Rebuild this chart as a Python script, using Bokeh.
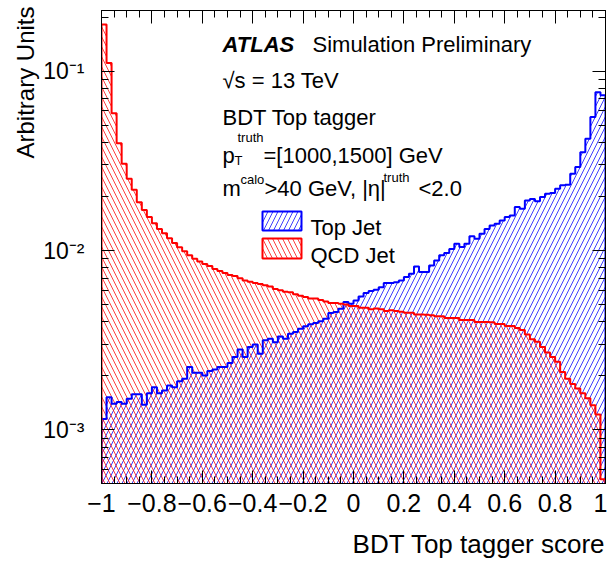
import numpy as np
from bokeh.plotting import figure
from bokeh.models import (Range1d, LinearAxis, LogAxis, FixedTicker,
                          Label, BoxAnnotation, Title)
from bokeh.embed import file_html
from bokeh.resources import INLINE

# ---------------- data ----------------
x_min, x_max = -1.0, 1.0
n_bins = 100

top_jet = [
    0.00115, 0.00152, 0.00140, 0.00143, 0.00140, 0.00149, 0.00158, 0.00158, 0.00138, 0.00160,
    0.00173, 0.00160, 0.00166, 0.00177, 0.00173, 0.00187, 0.00193, 0.00224, 0.00208, 0.00208,
    0.00201, 0.00213, 0.00217, 0.00224, 0.00224, 0.00236, 0.00255, 0.00281, 0.00255, 0.00290,
    0.00299, 0.00266, 0.00316, 0.00322, 0.00308, 0.00332, 0.00322, 0.00344, 0.00351, 0.00366,
    0.00378, 0.00388, 0.00395, 0.00404, 0.00417, 0.00448, 0.00454, 0.00474, 0.00516, 0.00505,
    0.00527, 0.00555, 0.00579, 0.00594, 0.00604, 0.00625, 0.00660, 0.00660, 0.00666, 0.00681,
    0.00711, 0.00743, 0.00815, 0.00758, 0.00758, 0.00826, 0.00881, 0.00940, 0.00970, 0.01020,
    0.01090, 0.01045, 0.01090, 0.01200, 0.01164, 0.01240, 0.01320, 0.01380, 0.01410, 0.01470,
    0.01540, 0.01570, 0.01750, 0.01710, 0.01900, 0.01940, 0.01880, 0.01990, 0.02070, 0.02090,
    0.02210, 0.02310, 0.02330, 0.02680, 0.02920, 0.03530, 0.04200, 0.05550, 0.07640, 0.07330,
]

qcd_jet = [
    0.18200, 0.11100, 0.05830, 0.03970, 0.03050, 0.02510, 0.02180, 0.01860, 0.01680, 0.01540,
    0.01420, 0.01320, 0.01250, 0.01170, 0.01100, 0.01044, 0.00990, 0.00940, 0.00900, 0.00870,
    0.00840, 0.00820, 0.00790, 0.00770, 0.00750, 0.00730, 0.00720, 0.00700, 0.00680, 0.00670,
    0.00660, 0.00650, 0.00640, 0.00630, 0.00610, 0.00600, 0.00590, 0.00585, 0.00570, 0.00560,
    0.00550, 0.00540, 0.00540, 0.00530, 0.00520, 0.00510, 0.00510, 0.00505, 0.00500, 0.00490,
    0.00490, 0.00480, 0.00480, 0.00470, 0.00475, 0.00470, 0.00460, 0.00465, 0.00460, 0.00455,
    0.00450, 0.00450, 0.00440, 0.00440, 0.00438, 0.00435, 0.00430, 0.00430, 0.00420, 0.00420,
    0.00420, 0.00410, 0.00410, 0.00410, 0.00400, 0.00400, 0.00400, 0.00398, 0.00390, 0.00390,
    0.00380, 0.00380, 0.00370, 0.00360, 0.00340, 0.00320, 0.00310, 0.00290, 0.00270, 0.00255,
    0.00240, 0.00210, 0.00193, 0.00180, 0.00170, 0.00160, 0.00150, 0.00137, 0.00122, 0.00053,
]

x_ticks = [-1.0, -0.8, -0.6, -0.4, -0.2, 0.0, 0.2, 0.4, 0.6, 0.8, 1.0]
x_tick_labels = ["\u22121", "\u22120.8", "\u22120.6", "\u22120.4", "\u22120.2", "0",
                 "0.2", "0.4", "0.6", "0.8", "1"]
y_ticks = [0.001, 0.01, 0.1]
y_tick_labels = ["10\u207b\u00b3", "10\u207b\u00b2", "10\u207b\u00b9"]

series_names = ["Top Jet", "QCD Jet"]
series_colors = ["#0000ff", "#ff0000"]
series_hatch = ["/", "\\"]

# ---------------- layout helpers ----------------
FL, FT, FW, FH = 101, 10, 504, 473
YTOP, YBOT = -0.6617, -3.2989
FONT = "Liberation Sans"


def dx(px):
    return float(x_min + (px - FL) / FW * (x_max - x_min))


def dy(py):
    return float(10 ** (YTOP - (py - FT) / FH * (YTOP - YBOT)))


edges = np.linspace(x_min, x_max, n_bins + 1)
floor = 10 ** YBOT * 0.5

p = figure(frame_width=FW, frame_height=FH,
           x_range=Range1d(x_min, x_max), y_range=Range1d(10 ** YBOT, 10 ** YTOP),
           y_axis_type="log", output_backend="svg", toolbar_location=None,
           min_border_left=FL, min_border_top=FT, min_border_right=2, min_border_bottom=83,
           background_fill_color="white", border_fill_color="white")
p.xgrid.visible = False
p.ygrid.visible = False
p.outline_line_color = "black"
p.outline_line_width = 1

# ---------------- histograms ----------------
for vals, col, hp in zip([top_jet, qcd_jet], series_colors, series_hatch):
    v = np.asarray(vals)
    xs = np.repeat(edges, 2)[1:-1]
    ys = np.repeat(v, 2)
    p.varea(x=xs, y1=np.full_like(ys, floor), y2=ys, fill_alpha=0,
            hatch_pattern=hp, hatch_color=col, hatch_alpha=0.75,
            hatch_scale=10, hatch_weight=1)

for vals, col in zip([top_jet, qcd_jet], series_colors):
    v = np.asarray(vals)
    xs = np.repeat(edges, 2)
    ys = np.concatenate([[floor], np.repeat(v, 2), [floor]])
    p.line(xs, ys, line_color=col, line_width=2)

# ---------------- axes ----------------
minor_x = [round(float(t), 4) for t in np.arange(-1.0, 1.0001, 0.05)]
minor_y = [float(k * 10.0 ** e) for e in range(-4, 0) for k in range(2, 10)]


def style_axis(ax):
    ax.axis_line_color = "black"
    ax.axis_line_width = 1
    ax.major_tick_in = 13
    ax.major_tick_out = 0
    ax.minor_tick_in = 7
    ax.minor_tick_out = 0
    ax.major_tick_line_color = "black"
    ax.minor_tick_line_color = "black"


def hide_labels(ax):
    ax.major_label_text_color = None
    ax.major_label_text_alpha = 0
    ax.major_label_text_font_size = "1px"
    ax.major_label_standoff = 0


xa = p.xaxis[0]
xa.ticker = FixedTicker(ticks=x_ticks, minor_ticks=minor_x)
xa.major_label_overrides = {t: l for t, l in zip(x_ticks, x_tick_labels)}
xa.major_label_text_font = FONT
xa.major_label_text_font_size = "25px"
xa.major_label_text_color = "black"
xa.major_label_standoff = 10
style_axis(xa)

ya = p.yaxis[0]
ya.ticker = FixedTicker(ticks=y_ticks, minor_ticks=minor_y)
ya.major_label_overrides = {t: l for t, l in zip(y_ticks, y_tick_labels)}
ya.major_label_text_font = FONT
ya.major_label_text_font_size = "23px"
ya.major_label_text_color = "black"
ya.major_label_standoff = 17
style_axis(ya)

top_ax = LinearAxis(ticker=FixedTicker(ticks=x_ticks, minor_ticks=minor_x))
hide_labels(top_ax)
style_axis(top_ax)
p.add_layout(top_ax, "above")

right_ax = LogAxis(ticker=FixedTicker(ticks=y_ticks, minor_ticks=minor_y))
hide_labels(right_ax)
style_axis(right_ax)
p.add_layout(right_ax, "right")

# ---------------- axis titles ----------------
p.add_layout(Title(text="BDT Top tagger score", align="right", text_font=FONT,
                   text_font_size="26px", text_font_style="normal", text_color="black",
                   standoff=24), "below")
p.add_layout(Title(text="Arbitrary Units", align="right", text_font=FONT,
                   text_font_size="24px", text_font_style="normal", text_color="black",
                   standoff=4, offset=-4), "left")


# ---------------- annotation texts ----------------
def txt(px, pybase, s, size="22px", style="normal"):
    p.add_layout(Label(x=dx(px), y=dy(pybase), text=s, text_align="left",
                       text_baseline="alphabetic", text_font=FONT,
                       text_font_size=size, text_font_style=style, text_color="black"))


txt(222, 43.5, "ATLAS", style="bold italic")
txt(312, 43.5, "Simulation Preliminary")
txt(222, 80, "\u221As = 13 TeV")
txt(222, 117, "BDT Top tagger")
txt(222, 155, "p")
txt(237, 137, "truth", size="13px")
txt(234, 160, "T", size="13px")
txt(263, 155, "=[1000,1500] GeV")
txt(222, 188, "m")
txt(240, 179, "calo", size="13px")
txt(264, 188, ">40 GeV, |\u03b7|")
txt(383, 177, "truth", size="13px")
txt(418, 188, "<2.0")

# ---------------- legend ----------------
legend_rows = [(211, 230, 227), (238, 258, 255)]
for (t, b, base), name, col, hp in zip(legend_rows, series_names, series_colors, series_hatch):
    p.add_layout(BoxAnnotation(left=dx(262), right=dx(301), top=dy(t), bottom=dy(b),
                               fill_alpha=0, line_color=col, line_width=2, line_alpha=1,
                               hatch_pattern=hp, hatch_color=col, hatch_alpha=0.75,
                               hatch_scale=10, hatch_weight=1))
    txt(310, base, name)

open("out.html", "w").write(file_html(p, INLINE))
